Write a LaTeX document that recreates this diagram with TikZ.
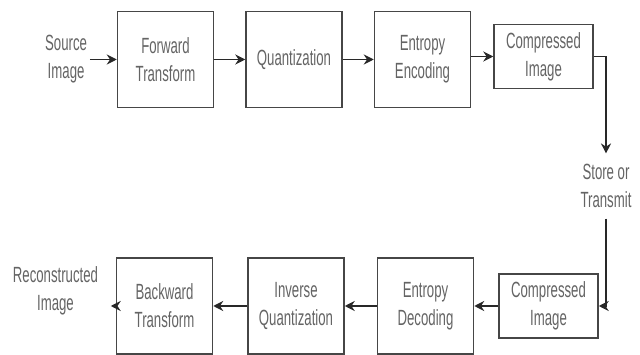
\documentclass[tikz,border=0pt]{standalone}
\usepackage{fontspec}
\setsansfont[FakeStretch=0.6]{Liberation Sans}
\usepackage{tikz}
\usetikzlibrary{arrows.meta, calc, positioning}
\definecolor{box-grey}{RGB}{70,70,70}
\definecolor{text-grey}{RGB}{100,100,100}
\definecolor{arrow-grey}{RGB}{40,40,40}
\tikzset{%
  every path/.style={line width=1.5pt},
    edge/.style={%
        draw=arrow-grey,
        -{Stealth[length=10pt, width=10pt]},
    },
    stage/.style={%
        rectangle,
        draw=box-grey,
        minimum width=96pt,
        minimum height=96pt,
        text=text-grey,
        font=\fontsize{22}{28}\selectfont \sffamily,
        align=center,
    },
    data/.style={%
        stage,
        minimum width=99pt,
        minimum height=64pt,
    },
    terminal/.style={%
        text=text-grey,
        font=\fontsize{22}{28}\selectfont \sffamily,
        align=center,
        inner sep=2pt,
    },
}

\begin{document}
\begin{tikzpicture}[x=1pt, y=1pt]
  \useasboundingbox (0, 0) rectangle (640, -355);
  \coordinate (top_side) at (165.5, -59.5);
  \coordinate (bottom_side) at (164.5, -306);
  \coordinate (store_side) at (606, -186);

  \node [stage,] at (top_side) (fwd) {Forward\\Transform};
  \node [stage, right=31pt of fwd] (quant) {Quantization};
  \node [stage, right=31pt of quant] (enc) {Entropy\\Encoding};
  \node [data, right=22pt of enc, yshift=3pt] (comp) {Compressed\\Image};
  \node [terminal, left=27pt of fwd] (src) {Source\\Image};

  \node [terminal, inner ysep=10pt] at (store_side) (store) {Store or\\Transmit};

  \node [stage,] at (bottom_side) (bwd) {Backward\\Transform};
  \node [stage, right=34pt of bwd] (iquant) {Inverse\\Quantization};
  \node [stage, right=32pt of iquant] (dec) {Entropy\\Decoding};
  \node [data, right=24pt of dec] (compb) {Compressed\\Image};
  \node [terminal, left=15pt of bwd, yshift=15pt] (rec) {Reconstructed\\Image};

  \draw[edge] (src) -- (fwd);
  \draw[edge] (fwd) -- (quant);
  \draw[edge] (quant) -- (enc);
  \draw[edge] (enc.east |- comp) -- (comp);
  \draw[edge] (comp.east) -| (store.north);

  \draw[edge] (store.south) |- (compb.east);
  \draw[edge] (compb) -- (dec);
  \draw[edge] (dec) -- (iquant);
  \draw[edge] (iquant) -- (bwd);
  \draw[edge, shorten >=10pt] (bwd) -- (bwd -| rec.east);
\end{tikzpicture}
\end{document}
